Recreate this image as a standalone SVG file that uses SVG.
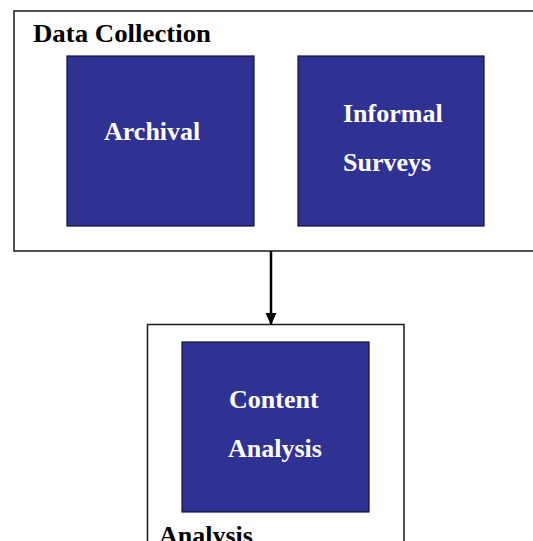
<svg xmlns="http://www.w3.org/2000/svg" width="533" height="541" viewBox="0 0 533 541">
<style>
.frame{fill:#ffffff;stroke:#1a1a1a;stroke-width:1.5}
.box{fill:#2f3193;stroke:#111133;stroke-width:1.2}
.lbl{font-family:"Liberation Serif","Times New Roman",serif;font-weight:bold;font-size:26px;fill:#000}
.wt{font-family:"Liberation Serif","Times New Roman",serif;font-weight:bold;font-size:26px;fill:#ffffff}
</style>
<defs>
<marker id="ah" markerWidth="12" markerHeight="14" refX="12" refY="6" orient="auto" markerUnits="userSpaceOnUse">
<path d="M0,0.5 L12,6 L0,11.5 Z" fill="#000"/>
</marker>
</defs>
<rect width="533" height="541" fill="#ffffff"/>
<g id="data-collection">
<rect class="frame" x="14" y="11" width="530" height="240"/>
<text class="lbl" x="33" y="42" textLength="178" lengthAdjust="spacingAndGlyphs">Data Collection</text>
</g>
<g id="archival">
<rect class="box" x="67" y="56" width="187" height="170"/>
<text class="wt" x="104" y="140">Archival</text>
</g>
<g id="informal-surveys">
<rect class="box" x="298" y="56" width="186" height="170"/>
<text class="wt" x="343" y="122">Informal</text>
<text class="wt" x="343" y="171">Surveys</text>
</g>
<g id="analysis">
<rect class="frame" x="147.5" y="324.5" width="256.5" height="240"/>
<text class="lbl" x="159" y="544">Analysis</text>
</g>
<g id="content-analysis">
<rect class="box" x="182" y="342" width="187" height="170"/>
<text class="wt" x="229" y="408">Content</text>
<text class="wt" x="228" y="457">Analysis</text>
</g>
<g id="connectors">
<line x1="271" y1="251" x2="271" y2="325" stroke="#000" stroke-width="2.5" marker-end="url(#ah)"/>
</g>
</svg>
